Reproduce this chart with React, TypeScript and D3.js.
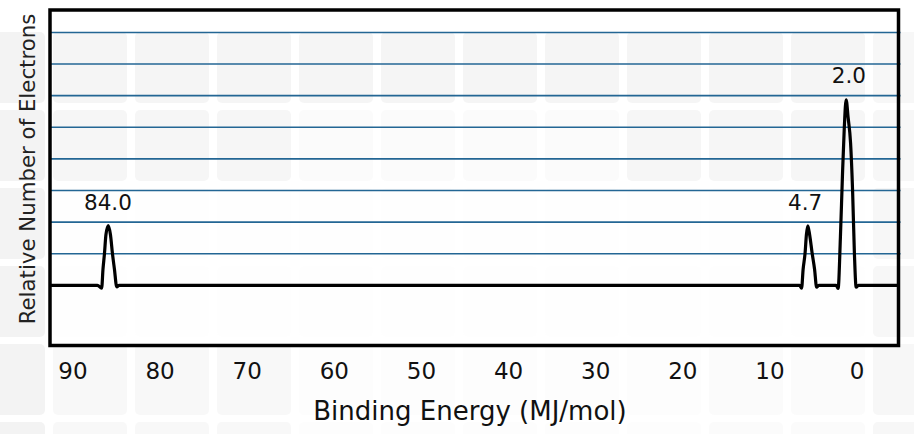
import React from 'react';
import * as d3 from 'd3';

// ---- data ----
const xTickValues = [90, 80, 70, 60, 50, 40, 30, 20, 10, 0];
const gridLevels = [1, 2, 3, 4, 5, 6, 7, 8];

// spectrum trace: binding energy (MJ/mol) vs relative number of electrons
const traceEnergy = [
  92.6, 87.2,
  86.71, 86.56, 86.39, 86.22, 85.95, 85.7, 85.47, 85.24, 84.98,
  84.7, 6.6,
  6.37, 6.2, 5.97, 5.82, 5.66, 5.45, 5.17, 4.88, 4.65,
  4.4, 2.4,
  2.18, 1.92, 1.68, 1.47, 1.26, 1.03, 0.75, 0.52, 0.31, 0.11,
  -0.15, -4.75,
];
const traceCount = [
  0, 0,
  -0.09, 0.5, 1.0, 1.6, 1.89, 1.6, 1.0, 0.5, -0.05,
  0, 0,
  -0.09, 0.5, 1.03, 1.6, 1.88, 1.6, 1.03, 0.5, -0.06,
  0, 0,
  -0.1, 1.5, 3.5, 5.0, 5.87, 5.3, 4.5, 3.0, 1.0, -0.06,
  0, 0,
];

const peakLabels = ['84.0', '4.7', '2.0'];
const peakLabelEnergy = [85.99, 5.97, 0.95];
const peakLabelLevel = [2.38, 2.38, 6.4];

const xAxisTitle = 'Binding Energy (MJ/mol)';
const yAxisTitle = 'Relative Number of Electrons';

// ---- layout ----
const W = 914;
const H = 434;
const plot = { left: 50, right: 898.5, top: 10, bottom: 345.5 };
const FONT = "'DejaVu Sans', Verdana, sans-serif";

const x = d3.scaleLinear().domain([92.64, -4.75]).range([plot.left, plot.right]);
const y = d3.scaleLinear().domain([-1.905, 8.71]).range([plot.bottom, plot.top]);

const tracePoints: [number, number][] = traceEnergy.map((e, i) => [e, traceCount[i]]);
const line = d3
  .line<[number, number]>()
  .x((d) => x(d[0]))
  .y((d) => y(d[1]))
  .curve(d3.curveMonotoneX);

// decorative, very faint tiled background
function tileOpacity(cx: number, cy: number) {
  if (cx < 50) return 0.85;
  if (cx > 900) return 0.6;
  if (cy < 100) return 0.75;
  if (cy < 185) return cx > 300 && cx < 620 ? 0.3 : 0.65;
  if (cy < 340) return 0.1;
  return cx < 300 ? 0.5 : cx > 700 ? 0.3 : 0.12;
}
function tiles() {
  const out: JSX.Element[] = [];
  for (let i = 0; i < 12; i++) {
    for (let j = 0; j < 6; j++) {
      const tx = -29 + i * 82;
      const ty = 32 + j * 78;
      out.push(
        <rect key={`t${i}-${j}`} x={tx} y={ty} width={74} height={71} rx={5}
          fill="#f1f1f1" opacity={tileOpacity(tx + 37, ty + 36)} />
      );
    }
  }
  return out;
}

export default function App() {
  return (
    <svg width={W} height={H} viewBox={`0 0 ${W} ${H}`}
      style={{ position: 'absolute', left: 0, top: 0, background: '#fff' }}>
      <rect x={0} y={0} width={W} height={H} fill="#fff" />
      <g>{tiles()}</g>

      {/* grid lines */}
      <g>
        {gridLevels.map((g) => (
          <line key={g} x1={plot.left} x2={plot.right + 2} y1={y(g)} y2={y(g)}
            stroke="#236694" strokeWidth={1.6} />
        ))}
      </g>

      {/* trace */}
      <path d={line(tracePoints) || ''} fill="none" stroke="#000" strokeWidth={3.2}
        strokeLinejoin="round" />

      {/* frame */}
      <rect x={plot.left} y={plot.top} width={plot.right - plot.left} height={plot.bottom - plot.top}
        fill="none" stroke="#000" strokeWidth={3.5} />

      {/* peak labels */}
      {peakLabels.map((t, i) => (
        <text key={t} x={x(peakLabelEnergy[i])} y={y(peakLabelLevel[i])} textAnchor="middle"
          fontFamily={FONT} fontSize={21.5} fill="#111">{t}</text>
      ))}

      {/* x tick labels */}
      {xTickValues.map((v) => (
        <text key={v} x={x(v)} y={378.7} textAnchor="middle" fontFamily={FONT} fontSize={23} fill="#111">
          {d3.format('d')(v)}
        </text>
      ))}

      {/* axis titles */}
      <text x={470} y={420} textAnchor="middle" fontFamily={FONT} fontSize={26} fill="#111">
        {xAxisTitle}
      </text>
      <text transform="translate(35,169) rotate(-90)" textAnchor="middle" fontFamily={FONT}
        fontSize={21.3} fill="#222">
        {yAxisTitle}
      </text>
    </svg>
  );
}
